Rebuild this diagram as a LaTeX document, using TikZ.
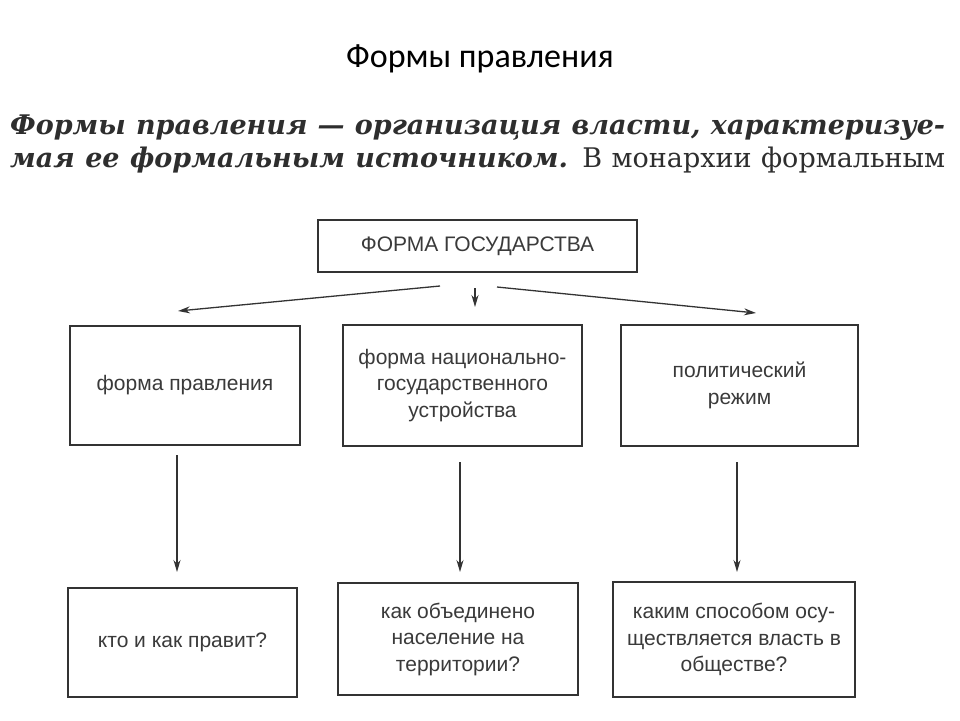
\documentclass[tikz,border=0pt]{standalone}
\usepackage{fontspec}
\setmainfont{DejaVu Serif}
\newfontfamily\boxfont{Liberation Sans}
\newfontfamily\titlefont{Carlito}
\usetikzlibrary{arrows.meta}
\definecolor{ink}{HTML}{3A3A3A}
\definecolor{frame}{HTML}{333333}
\definecolor{para}{HTML}{2E2E2E}
\begin{document}
\begin{tikzpicture}[x=1pt,y=-1pt,
  boxstyle/.style={draw=frame, line width=1.4pt, inner sep=0pt, align=center,
    text=ink, font=\boxfont\fontsize{21}{26.5}\selectfont},
  arr/.style={draw=frame, line width=1.3pt, -{Stealth[length=12pt,width=7pt]}},
  paraline/.style={anchor=base west, inner sep=0pt, text=para,
    font=\fontsize{27}{33}\selectfont}]
\useasboundingbox (0,0) rectangle (960,720);
\fill[white] (0,0) rectangle (960,720);

\node[font=\titlefont\fontsize{34}{38}\selectfont, text=black] (title) at (480,59) {Формы правления};

\node[paraline] (p1) at (10,134) {\makebox[935pt][s]{\bfseries\itshape Формы правления — организация власти, характеризуе-}};
\node[paraline] (p2) at (10,167) {\makebox[935pt][s]{{\bfseries\itshape мая ее формальным источником.} В монархии формальным}};

\node[boxstyle, minimum width=319pt, minimum height=52pt] (top) at (477.5,246) {ФОРМА ГОСУДАРСТВА};

\node[boxstyle, minimum width=230pt, minimum height=119pt] (m1) at (185,385.5) {форма правления};
\node[boxstyle, minimum width=239pt, minimum height=121pt] (m2) at (462.5,385.5) {форма национально-\\государственного\\устройства};
\node[boxstyle, minimum width=237pt, minimum height=121pt] (m3) at (739.5,385.5) {политический\\режим};

\node[boxstyle, minimum width=229pt, minimum height=109pt] (b1) at (182.5,642.5) {кто и как правит?};
\node[boxstyle, minimum width=240pt, minimum height=112pt] (b2) at (458,639) {как объединено\\население на\\территории?};
\node[boxstyle, minimum width=242pt, minimum height=115pt] (b3) at (734,639.5) {каким способом осу-\\ществляется власть в\\обществе?};

\coordinate (tl) at (440,286); \coordinate (tle) at (178,311);
\coordinate (tm) at (475,288); \coordinate (tme) at (475,307);
\coordinate (tr) at (497,287); \coordinate (tre) at (756,313);
\draw[arr] (tl) -- (tle);
\draw[arr] (tm) -- (tme);
\draw[arr] (tr) -- (tre);

\coordinate (v1s) at (177,455); \coordinate (v1e) at (177,572);
\coordinate (v2s) at (460,462); \coordinate (v2e) at (460,572);
\coordinate (v3s) at (737,462); \coordinate (v3e) at (737,572);
\draw[arr] (v1s) -- (v1e);
\draw[arr] (v2s) -- (v2e);
\draw[arr] (v3s) -- (v3e);
\end{tikzpicture}
\end{document}
